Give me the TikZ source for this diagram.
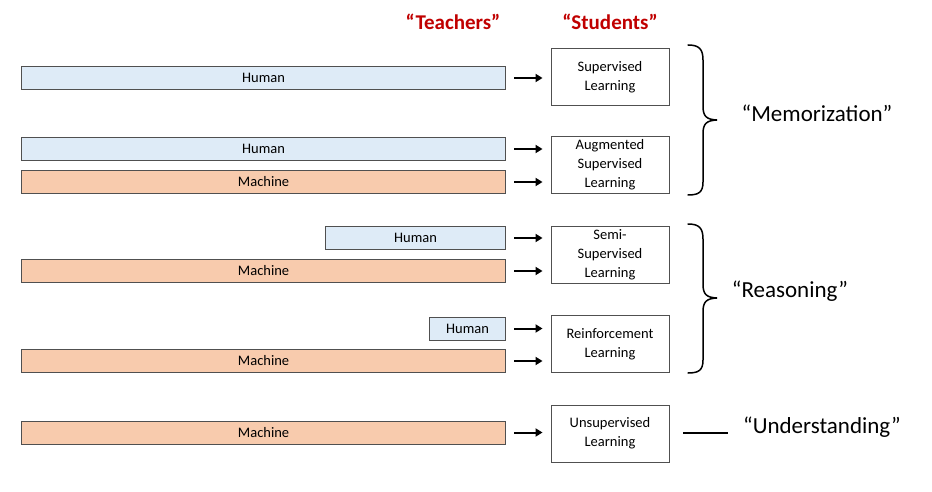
\documentclass[tikz,border=0pt]{standalone}
\usepackage{fontspec}
\setmainfont{Carlito}
\usetikzlibrary{calc,arrows.meta}
\definecolor{hblue}{HTML}{DEEBF7}
\definecolor{morange}{HTML}{F8CBAD}
\definecolor{bordgray}{HTML}{505050}
\definecolor{darkred}{HTML}{C00000}
\begin{document}
\begin{tikzpicture}[x=1pt,y=-1pt,
  barbase/.style={draw=bordgray, line width=0.9pt, minimum height=23pt, inner sep=0pt, anchor=east, font=\fontsize{14.5}{17}\selectfont},
  hbar/.style={barbase, fill=hblue},
  mbar/.style={barbase, fill=morange},
  stbox/.style={draw=bordgray, line width=0.9pt, fill=white, minimum width=118pt, minimum height=57pt, inner sep=0pt, align=center, font=\fontsize{14.5}{19}\selectfont},
  arr/.style={line width=2pt, -{Triangle[length=7pt,width=8pt]}},
  head/.style={font=\fontsize{21}{24}\selectfont\bfseries, text=darkred},
  big/.style={font=\fontsize{23}{26}\selectfont},
  brc/.style={line width=1.5pt, line cap=round}
]
\useasboundingbox (0,0) rectangle (932,492);

% headings
\node[head] (tea) at (453,22) {“Teachers”};
\node[head] (stu) at (610,22) {“Students”};

% student boxes
\node[stbox] (s1) at (610,77) {Supervised\\Learning};
\node[stbox] (s2) at (610,164.5) {Augmented\\Supervised\\Learning};
\node[stbox] (s3) at (610,254.5) {Semi-\\Supervised\\Learning};
\node[stbox] (s4) at (610,344) {Reinforcement\\Learning};
\node[stbox] (s5) at (610,433.5) {Unsupervised\\Learning};

% teacher bars
\node[hbar, minimum width=484pt] (h1) at (506,78) {Human};
\node[hbar, minimum width=484pt] (h2) at (506,149) {Human};
\node[mbar, minimum width=484pt] (m2) at (506,182) {Machine};
\node[hbar, minimum width=180pt] (h3) at (506,238) {Human};
\node[mbar, minimum width=484pt] (m3) at (506,271) {Machine};
\node[hbar, minimum width=76pt] (h4) at (506,328.5) {Human};
\node[mbar, minimum width=484pt] (m4) at (506,361) {Machine};
\node[mbar, minimum width=484pt] (m5) at (506,432.5) {Machine};

% arrows
\foreach \b/\s in {h1/s1,h2/s2,m2/s2,h3/s3,m3/s3,h4/s4,m4/s4,m5/s5}{
  \draw[arr] ($(\b.east)+(8,0)$) -- ($(\b.east -| \s.west)+(-8,0)$);
}

% braces
\draw[brc] (688,45) .. controls (699,45) and (703,49) .. (703,60) -- (703,106)
  .. controls (703,116) and (706,119.5) .. (717,120)
  .. controls (706,120.5) and (703,124) .. (703,134) -- (703,182)
  .. controls (703,192) and (699,195) .. (688,195);
\draw[brc] (688,224) .. controls (699,224) and (703,228) .. (703,239) -- (703,284)
  .. controls (703,294) and (706,297.5) .. (717,298)
  .. controls (706,298.5) and (703,302) .. (703,312) -- (703,360)
  .. controls (703,370) and (699,373) .. (688,373);

% labels
\node[big] (mem) at (817,113) {“Memorization”};
\node[big] (rea) at (790,291) {“Reasoning”};
\node[big] (und) at (822,427) {“Understanding”};
\coordinate (ul) at (683,433);
\coordinate (ur) at (728,433);
\draw[line width=1.3pt] (ul) -- (ur);
\end{tikzpicture}
\end{document}
